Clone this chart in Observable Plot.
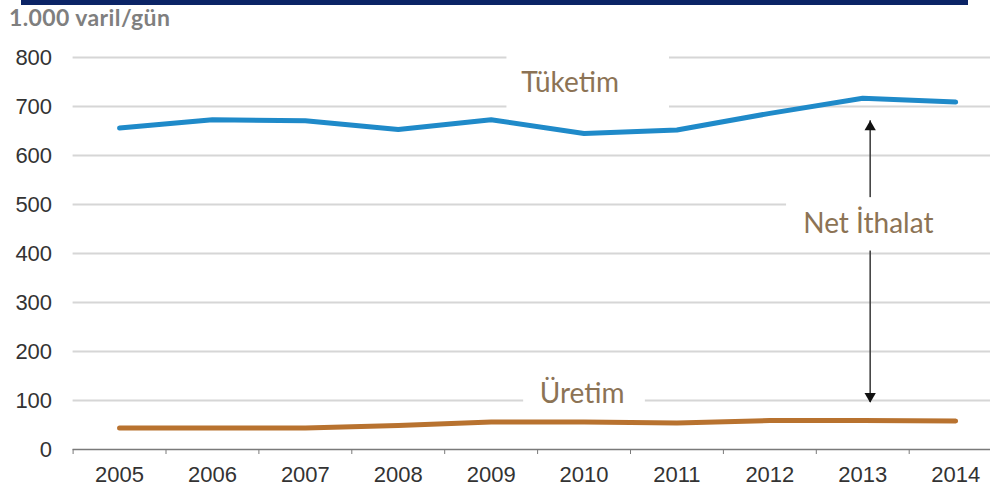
<!DOCTYPE html>
<html>
<head>
<meta charset="utf-8">
<script src="https://cdn.jsdelivr.net/npm/d3@7"></script>
<script src="https://cdn.jsdelivr.net/npm/@observablehq/plot@0.6"></script>
<style>
  html, body { margin: 0; padding: 0; background: #fff; }
  #hdr { position: relative; width: 990px; height: 40px; }
  #bar { position: absolute; left: 21px; top: 0; width: 947px; height: 5px; background: #0b2466; }
  #title { position: absolute; left: 9px; top: 6px; font: bold 23px/23px Lato, "Open Sans", sans-serif; letter-spacing: 0.4px; color: #7f7f7f; white-space: nowrap; }
</style>
</head>
<body>
<div id="hdr"><div id="bar"></div><div id="title">1.000 varil/gün</div></div>
<div id="chart"></div>
<script>
// ---- data ----
const years = [2005, 2006, 2007, 2008, 2009, 2010, 2011, 2012, 2013, 2014];
const consumption = [656, 673, 671, 653, 673, 645, 652, 686, 717, 709]; // Tüketim
const production  = [44, 44, 44, 49, 56, 56, 54, 59, 59, 58];          // Üretim
const yTicks = [0, 100, 200, 300, 400, 500, 600, 700, 800];
const tickBounds = [2004.5, 2005.5, 2006.5, 2007.5, 2008.5, 2009.5, 2010.5, 2011.5, 2012.5, 2013.5];

// ---- annotations (data coordinates) ----
const labelTexts  = ["Tüketim", "Net İthalat", "Üretim"];
const labelYears  = [2009.85, 2013.06, 2009.98];
const labelValues = [747, 461, 113];
const boxX1 = [2009.17, 2012.18, 2009.35];
const boxX2 = [2010.92, 2014.7, 2010.66];
const boxY1 = [692, 405, 63];
const boxY2 = [808, 514, 161];
const arrowYear = 2013.08;
const arrowTop = 671;
const arrowBottom = 96;

const consTable = years.map((y, i) => ({year: y, value: consumption[i]}));
const prodTable = years.map((y, i) => ({year: y, value: production[i]}));
const labels = labelTexts.map((t, i) => ({text: t, x: labelYears[i], y: labelValues[i]}));
const boxes = boxX1.map((x, i) => ({x1: x, x2: boxX2[i], y1: boxY1[i], y2: boxY2[i]}));

const chart = Plot.plot({
  width: 990,
  height: 451,
  marginLeft: 72.6,
  marginRight: 0,
  marginTop: 17,
  marginBottom: 42,
  style: {fontFamily: "'Liberation Sans', Arial, sans-serif", fontSize: "22px", color: "#333", background: "#fff", overflow: "hidden"},
  x: {type: "linear", domain: [2004.5, 2014.5], range: [72.6, 1001.6]},
  y: {domain: [0, 800], range: [409, 17]},
  marks: [
    Plot.ruleY(yTicks.filter(d => d > 0), {x1: 2004.5, x2: 2014.5, y: d => d, stroke: "#d6d6d6", strokeWidth: 1.8}),
    Plot.ruleY([0], {x1: 2004.5, x2: 2014.5, y: d => d, stroke: "#7a7a7a", strokeWidth: 1.5}),
    Plot.axisX(tickBounds, {tickSize: 5, tickFormat: () => "", stroke: "#7a7a7a", label: null}),
    Plot.axisX(years, {tickSize: 0, tickPadding: 17, tickFormat: d => String(d), fill: "#333", label: null}),
    Plot.axisY(yTicks, {tickSize: 0, tickPadding: 21, fill: "#333", label: null}),
    Plot.ruleX([arrowYear], {x: d => d, y1: arrowBottom, y2: arrowTop, stroke: "#444", strokeWidth: 1.6}),
    Plot.dot([arrowTop], {x: () => arrowYear, y: d => d, symbol: "triangle", r: 4.2, fill: "#111", stroke: "none", dy: 6.3}),
    Plot.dot([arrowBottom], {x: () => arrowYear, y: d => d, symbol: "triangle", r: 4.2, fill: "#111", stroke: "none", rotate: 180, dy: -6.3}),
    Plot.rect(boxes, {x1: "x1", x2: "x2", y1: "y1", y2: "y2", fill: "#fff"}),
    Plot.text(labels, {x: "x", y: "y", text: "text", fill: "#8c7355", fontSize: 28, fontFamily: "Lato, 'Open Sans', sans-serif"}),
    Plot.line(prodTable, {x: "year", y: "value", stroke: "#b8722f", strokeWidth: 5, strokeLinejoin: "round"}),
    Plot.line(consTable, {x: "year", y: "value", stroke: "#1f8ac9", strokeWidth: 5, strokeLinejoin: "round"})
  ]
});
document.getElementById("chart").appendChild(chart);
</script>
</body>
</html>
